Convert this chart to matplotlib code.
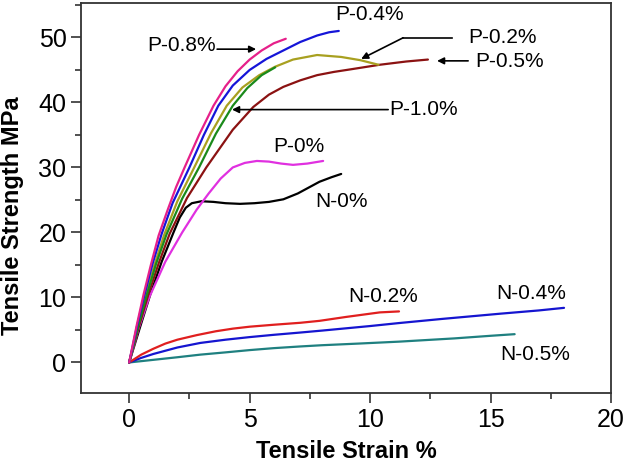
import matplotlib
matplotlib.use("Agg")
import matplotlib.pyplot as plt
from matplotlib.ticker import MultipleLocator, AutoMinorLocator

plt.rcParams['font.family'] = ['Liberation Sans', 'DejaVu Sans']

# strain (%) / strength (MPa) pairs
p08_x = [0, 0.3, 0.6, 0.9, 1.22, 1.6, 1.95, 2.3, 2.9, 3.5, 4.0, 4.5, 5.0, 5.5, 6.0, 6.5]
p08_y = [0, 5.5, 10.5, 15, 19.5, 23.5, 27, 30, 35, 39.5, 42.5, 44.8, 46.6, 48, 49.1, 49.8]
p04_x = [0, 0.32, 0.64, 0.98, 1.35, 1.8, 2.5, 3.1, 3.7, 4.3, 5.0, 5.7, 6.4, 7.1, 7.8, 8.3, 8.7]
p04_y = [0, 5.5, 10.5, 15.3, 19.8, 24.5, 30, 35, 39.5, 42.6, 45, 46.7, 48, 49.3, 50.3, 50.8, 51.0]
p02_x = [0, 0.35, 0.7, 1.05, 1.45, 2.0, 2.7, 3.4, 4.05, 4.7, 5.4, 6.06, 6.8, 7.8, 8.8, 9.6, 10.35]
p02_y = [0, 5.5, 10.5, 15, 19.6, 24.8, 30, 35.3, 39.5, 42.3, 44.2, 45.5, 46.6, 47.3, 47.0, 46.5, 45.8]
p10_x = [0, 0.37, 0.74, 1.12, 1.55, 2.2, 2.9, 3.6, 4.3, 4.9, 5.5, 6.06]
p10_y = [0, 5.5, 10.5, 15.2, 19.7, 25.2, 30, 35.2, 39.5, 42.2, 44.2, 45.4]
p05_x = [0, 0.4, 0.8, 1.22, 1.68, 2.4, 3.2, 4.3, 5.15, 5.8, 6.4, 7.1, 7.8, 8.5, 9.2, 10.4, 11.5, 12.4]
p05_y = [0, 5.5, 10.5, 15.2, 19.8, 25.3, 30, 35.8, 39.3, 41.2, 42.4, 43.4, 44.2, 44.7, 45.1, 45.8, 46.3, 46.6]
p0_x = [0, 0.4, 0.83, 1.5, 2.2, 2.8, 3.3, 3.8, 4.3, 4.8, 5.3, 5.8, 6.3, 6.8, 7.4, 8.05]
p0_y = [0, 5.3, 10, 15.5, 20, 23.5, 26, 28.3, 30.0, 30.7, 31.0, 30.9, 30.6, 30.4, 30.6, 31.0]
n0_x = [0, 0.44, 0.88, 1.35, 1.84, 2.1, 2.35, 2.6, 3.0, 3.5, 4.0, 4.6, 5.2, 5.8, 6.4, 7.0, 7.5, 7.9, 8.4, 8.8]
n0_y = [0, 5.3, 10.5, 15.5, 20, 22.3, 23.8, 24.5, 24.8, 24.7, 24.5, 24.4, 24.5, 24.7, 25.1, 26.0, 27.0, 27.8, 28.5, 29.0]
n02_x = [0, 0.5, 1, 1.5, 2, 2.8, 3.6, 4.3, 5, 6, 7.1, 7.9, 9, 10.4, 11.2]
n02_y = [0, 1.2, 2.1, 2.9, 3.5, 4.2, 4.8, 5.2, 5.5, 5.8, 6.1, 6.4, 7.0, 7.7, 7.85]
n04_x = [0, 0.5, 1, 2, 2.95, 4, 5, 6, 7.1, 8, 9, 10, 11.2, 13, 15.4, 17, 18.05]
n04_y = [0, 0.7, 1.3, 2.3, 3.0, 3.5, 3.9, 4.25, 4.6, 4.9, 5.25, 5.6, 6.06, 6.7, 7.5, 8.0, 8.4]
n05_x = [0, 1, 2, 2.95, 4, 5, 6, 7.1, 8, 9.5, 11.2, 13.5, 15, 16]
n05_y = [0, 0.4, 0.8, 1.2, 1.55, 1.9, 2.2, 2.46, 2.65, 2.9, 3.2, 3.7, 4.1, 4.35]

fig = plt.figure(figsize=(6.25, 4.63), dpi=100)
ax = fig.add_axes([0.1296, 0.1512, 0.848, 0.8423])

lw = 1.6
kw = dict(lw=lw, solid_joinstyle='round', solid_capstyle='round')
ax.plot(n05_x, n05_y, color='#1f8080', **kw)
ax.plot(n04_x, n04_y, color='#1515d0', **kw)
ax.plot(n02_x, n02_y, color='#e01f1f', **kw)
ax.plot(n0_x, n0_y, color='black', **kw)
ax.plot(p0_x, p0_y, color='#e030e0', **kw)
ax.plot(p05_x, p05_y, color='#8b1212', **kw)
ax.plot(p02_x, p02_y, color='#a8a020', **kw)
ax.plot(p10_x, p10_y, color='#1a8a1a', **kw)
ax.plot(p04_x, p04_y, color='#1515d8', **kw)
ax.plot(p08_x, p08_y, color='#e6208a', **kw)

ax.set_xlim(-2, 20)
ax.set_ylim(-4.7, 55.3)
ax.xaxis.set_major_locator(MultipleLocator(5))
ax.yaxis.set_major_locator(MultipleLocator(10))
ax.xaxis.set_minor_locator(AutoMinorLocator(2))
ax.yaxis.set_minor_locator(AutoMinorLocator(2))
ax.tick_params(which='both', direction='out', width=1.2, colors='#333333',
               labelcolor='black', labelsize=18, top=False, right=False)
ax.tick_params(which='major', length=7)
ax.tick_params(which='minor', length=4)
for s in ax.spines.values():
    s.set_linewidth(1.3)
    s.set_color('#333333')

fig.text(346 / 625, 1 - 451 / 463, 'Tensile Strain %', ha='center', va='center',
         fontsize=17, fontweight='bold')
fig.text(13 / 625, 1 - 216 / 463, 'Tensile Strength MPa', ha='center', va='center',
         rotation=90, fontsize=17, fontweight='bold')

fs = 15
arr = dict(arrowstyle='-|>', color='black', lw=1.2, mutation_scale=10, shrinkA=0, shrinkB=0)
ax.text(2.18, 48.7, 'P-0.8%', fontsize=fs, ha='center', va='center')
ax.annotate('', xy=(5.27, 48.2), xytext=(3.65, 48.2), arrowprops=arr)
ax.text(9.96, 53.5, 'P-0.4%', fontsize=fs, ha='center', va='center')
ax.text(15.5, 49.95, 'P-0.2%', fontsize=fs, ha='center', va='center')
ax.plot([13.4, 11.37], [49.95, 49.95], color='black', lw=1.2)
ax.annotate('', xy=(9.63, 46.7), xytext=(11.37, 49.95), arrowprops=arr)
ax.text(15.8, 46.3, 'P-0.5%', fontsize=fs, ha='center', va='center')
ax.annotate('', xy=(12.78, 46.4), xytext=(14.07, 46.4), arrowprops=arr)
ax.text(12.2, 38.9, 'P-1.0%', fontsize=fs, ha='center', va='center')
ax.annotate('', xy=(4.27, 38.9), xytext=(10.75, 38.9), arrowprops=arr)
ax.text(7.05, 33.2, 'P-0%', fontsize=fs, ha='center', va='center')
ax.text(8.8, 24.7, 'N-0%', fontsize=fs, ha='center', va='center')
ax.text(10.54, 10.1, 'N-0.2%', fontsize=fs, ha='center', va='center')
ax.text(16.7, 10.6, 'N-0.4%', fontsize=fs, ha='center', va='center')
ax.text(16.85, 1.2, 'N-0.5%', fontsize=fs, ha='center', va='center')

fig.savefig('out.png', dpi=100)
